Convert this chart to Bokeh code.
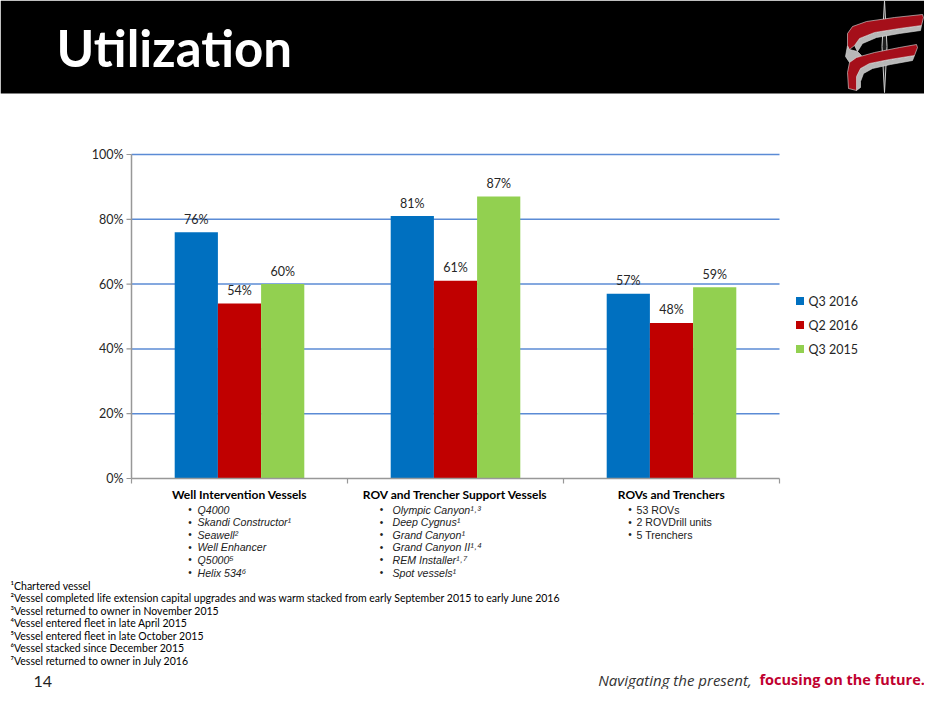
from bokeh.plotting import figure
from bokeh.models import Range1d
from bokeh.core.properties import value
from bokeh.embed import file_html
from bokeh.resources import INLINE

# ---------------- data ----------------
categories = ["Well Intervention Vessels", "ROV and Trencher Support Vessels", "ROVs and Trenchers"]
series_names = ["Q3 2016", "Q2 2016", "Q3 2015"]
q3_2016 = [76, 81, 57]
q2_2016 = [54, 61, 48]
q3_2015 = [60, 87, 59]
series_values = [q3_2016, q2_2016, q3_2015]
series_colors = ["#0070C0", "#C00000", "#92D050"]
y_ticks = [0, 20, 40, 60, 80, 100]
y_tick_labels = ["0%", "20%", "40%", "60%", "80%", "100%"]
fleet_lists = [
    ["Q4000", "Skandi Constructor\u00b9", "Seawell\u00b2", "Well Enhancer", "Q5000\u2075", "Helix 534\u2076"],
    ["Olympic Canyon\u00b9\u02d2\u00b3", "Deep Cygnus\u00b9", "Grand Canyon\u00b9", "Grand Canyon II\u00b9\u02d2\u2074",
     "REM Installer\u00b9\u02d2\u2077", "Spot vessels\u00b9"],
    ["53 ROVs", "2 ROVDrill units", "5 Trenchers"],
]
fleet_italic = [True, True, False]
footnotes = [
    "\u00b9Chartered vessel",
    "\u00b2Vessel completed life extension capital upgrades and was warm stacked from early September 2015 to early June 2016",
    "\u00b3Vessel returned to owner in November 2015",
    "\u2074Vessel entered fleet in late April 2015",
    "\u2075Vessel entered fleet in late October 2015",
    "\u2076Vessel stacked since December 2015",
    "\u2077Vessel returned to owner in July 2016",
]
title_text = "Utilization"
page_number = "14"
tagline_plain = "Navigating the present, "
tagline_bold = "focusing on the future."

# ---------------- layout (reference pixel coordinates) ----------------
W, H = 924, 689
PLOT_L, PLOT_R = 131, 779
Y0_PX, Y100_PX = 478, 154
n_cat = len(categories)
px_per_grp = (PLOT_R - PLOT_L) / n_cat
px_per_pct = (Y0_PX - Y100_PX) / 100.0


def gx(px):
    return (px - PLOT_L) / px_per_grp - 0.5


def py(px):
    return (Y0_PX - px) / px_per_pct


p = figure(width=W, height=H, x_range=Range1d(0, W), y_range=Range1d(H, 0),
           output_backend="svg", toolbar_location=None, min_border=0,
           x_axis_location=None, y_axis_location=None, outline_line_color=None)
p.grid.visible = False
p.background_fill_color = "white"
p.border_fill_color = "white"
p.extra_x_ranges = {"grp": Range1d(gx(0), gx(W))}
p.extra_y_ranges = {"pct": Range1d(py(H), py(0))}

CAL = value("Lato")
ARIAL = value("Liberation Sans")

# ---------------- header ----------------
p.quad(left=[0], right=[W], top=[0], bottom=[93], fill_color="black", line_color=None)
p.text(x=[56], y=[47], text=[title_text], text_color="white", text_font=value("Lato"),
       text_font_style="bold", text_font_size="51px", text_baseline="middle", text_align="left")

# logo (decorative), shifted slightly left to stay inside the canvas
LX = -6
needle_x = [890 + LX, 892.5 + LX, 890 + LX, 887.5 + LX]
needle_y = [0, 46, 92, 46]
p.patch(needle_x, needle_y, fill_color="#202020", line_color="#d0d0d0", line_width=1)
red_top = [(853, 33), (858, 26), (872, 21), (900, 17), (928, 14), (929, 17), (927, 25), (905, 28),
           (880, 32), (865, 38), (860, 45), (855, 49), (853, 45)]
gray_top = [(860, 45), (865, 38), (880, 32), (905, 28), (927, 25), (926, 30), (905, 33), (882, 37),
            (868, 43), (863, 51)]
gray_mid = [(853, 45), (855, 49), (863, 51), (867, 55), (862, 58), (855, 62), (851, 56)]
red_bot = [(855, 62), (862, 57), (880, 52), (905, 47), (922, 44), (923, 47), (920, 55), (895, 59),
           (875, 63), (866, 68), (862, 76), (862, 90), (854, 88), (853, 72)]
gray_bot = [(862, 76), (866, 68), (875, 63), (895, 59), (920, 55), (918, 60), (896, 64), (878, 68),
            (869, 73), (866, 81), (866, 87), (862, 90)]
for pts, col in [(gray_top, "#b8b8b8"), (gray_mid, "#b8b8b8"), (red_top, "#a50f1a"),
                 (gray_bot, "#b8b8b8"), (red_bot, "#a50f1a")]:
    p.patch([a + LX for a, b in pts], [b for a, b in pts], fill_color=col, line_color="#e0e0e0",
            line_width=0.6)

# ---------------- chart (via extra scales) ----------------
grid_ticks = y_ticks[1:]
p.segment(x0=[-0.5] * len(grid_ticks), x1=[n_cat - 0.5] * len(grid_ticks), y0=grid_ticks, y1=grid_ticks,
          line_color="#5B8BD5", line_width=1.5, x_range_name="grp", y_range_name="pct")

offsets = [-0.2, 0.0, 0.2]
bar_w = 0.2
for vals, col, off in zip(series_values, series_colors, offsets):
    xs = [i + off for i in range(n_cat)]
    p.vbar(x=xs, top=vals, bottom=0, width=bar_w, fill_color=col, line_color=None,
           x_range_name="grp", y_range_name="pct")
    p.text(x=xs, y=vals, text=[f"{v}%" for v in vals], text_align="center", text_baseline="middle",
           y_offset=-13, text_font=CAL, text_font_size="12.5px", text_color="#262626",
           x_range_name="grp", y_range_name="pct")

# axes lines
p.segment(x0=[-0.5], x1=[-0.5], y0=[0], y1=[100], line_color="#989898", line_width=1.5,
          x_range_name="grp", y_range_name="pct")
p.segment(x0=[-0.5], x1=[n_cat - 0.5], y0=[0], y1=[0], line_color="#989898", line_width=1.5,
          x_range_name="grp", y_range_name="pct")
tick_len_g = 5 / px_per_grp
p.segment(x0=[-0.5 - tick_len_g] * len(y_ticks), x1=[-0.5] * len(y_ticks), y0=y_ticks, y1=y_ticks,
          line_color="#989898", line_width=1.2, x_range_name="grp", y_range_name="pct")
bounds = [i - 0.5 for i in range(n_cat + 1)]
tick_len_p = 5 / px_per_pct
p.segment(x0=bounds, x1=bounds, y0=[0] * len(bounds), y1=[-tick_len_p] * len(bounds),
          line_color="#989898", line_width=1.2, x_range_name="grp", y_range_name="pct")

# y tick labels
p.text(x=[123] * len(y_ticks), y=y_ticks, text=y_tick_labels, text_align="right", text_baseline="middle",
       text_font=CAL, text_font_size="12.5px", text_color="#262626", y_range_name="pct")

# category headings and fleet lists
bullet_dx = [-49.5, -74, -41.5]
text_dx = [-42, -63, -35]
p.text(x=list(range(n_cat)), y=[494] * n_cat, text=categories, text_align="center", text_baseline="middle",
       text_font=CAL, text_font_style="bold", text_font_size="12px", text_color="black",
       x_range_name="grp")
for i, items in enumerate(fleet_lists):
    cx = PLOT_L + px_per_grp * (i + 0.5)
    ys = [509 + 12.6 * k for k in range(len(items))]
    p.text(x=[cx + bullet_dx[i]] * len(items), y=ys, text=["\u2022"] * len(items), text_align="center",
           text_baseline="middle", text_font=ARIAL, text_font_size="10px", text_color="#222222")
    p.text(x=[cx + text_dx[i]] * len(items), y=ys, text=items, text_align="left", text_baseline="middle",
           text_font=ARIAL, text_font_style="italic" if fleet_italic[i] else "normal",
           text_font_size="10.6px", text_color="#222222")

# legend
for k, (name, col) in enumerate(zip(series_names, series_colors)):
    ly = 300.5 + 24 * k
    p.rect(x=[799.5], y=[ly], width=8, height=8, fill_color=col, line_color=None)
    p.text(x=[808], y=[ly], text=[name], text_align="left", text_baseline="middle", text_font=CAL,
           text_font_size="12.5px", text_color="#262626")

# footnotes
p.text(x=[10] * len(footnotes), y=[585 + 12.5 * k for k in range(len(footnotes))], text=footnotes,
       text_align="left", text_baseline="middle", text_font=CAL, text_font_size="10.5px", text_color="black")

# footer
p.text(x=[33], y=[681], text=[page_number], text_align="left", text_baseline="middle", text_font=CAL,
       text_font_size="16px", text_color="#222222")
p.text(x=[755], y=[679], text=[tagline_plain], text_align="right", text_baseline="middle",
       text_font=value("Open Sans"), text_font_style="italic", text_font_size="15px", text_color="#333333")
p.text(x=[759], y=[679], text=[tagline_bold], text_align="left", text_baseline="middle",
       text_font=value("Open Sans"), text_font_style="bold", text_font_size="14.5px", text_color="#C0002F")

open("out.html", "w").write(file_html(p, INLINE))
